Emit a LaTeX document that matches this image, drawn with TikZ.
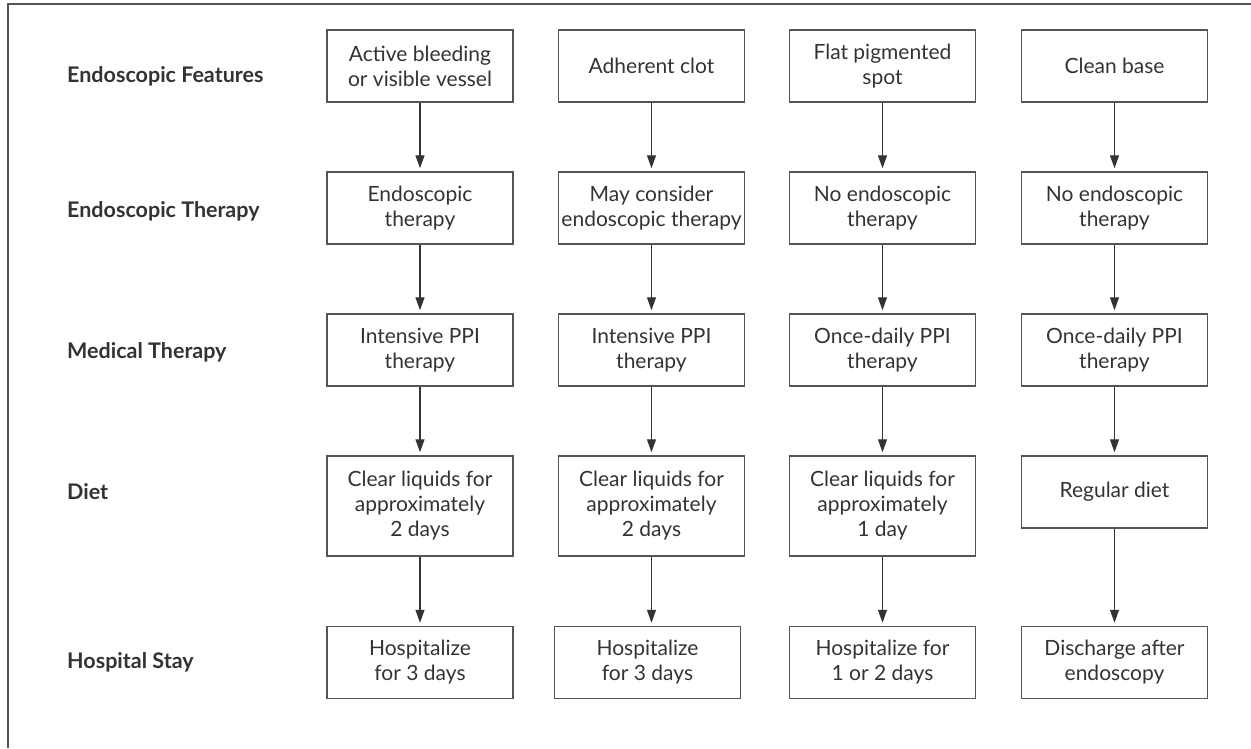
\documentclass[tikz,border=0pt]{standalone}
\usepackage{fontspec}
\setmainfont{Lato}
\usetikzlibrary{arrows.meta}
\definecolor{ink}{HTML}{333333}
\definecolor{edge}{HTML}{555555}
\begin{document}
\begin{tikzpicture}[x=1pt,y=-1pt,
  box/.style={draw=edge,line width=1.5pt,minimum width=186pt,minimum height=72pt,
    align=center,inner sep=2pt,text=ink,font=\fontsize{21}{25}\selectfont},
  tall/.style={box,minimum height=100pt},
  rowlabel/.style={anchor=base west,text=ink,font=\fontsize{21.5}{24}\selectfont\bfseries,inner sep=0pt},
  flow/.style={draw=ink,line width=1.3pt,-{Triangle[width=9pt,length=13pt]},shorten >=3pt}]
\useasboundingbox (0,0) rectangle (1251,748);
\draw[edge,line width=1.6pt] (8,748) -- (8,4) -- (1251,4);
% row labels
\node[rowlabel] (l1) at (67,82) {Endoscopic Features};
\node[rowlabel] (l2) at (67,217) {Endoscopic Therapy};
\node[rowlabel] (l3) at (67,358) {Medical Therapy};
\node[rowlabel] (l4) at (67,499) {Diet};
\node[rowlabel] (l5) at (67,668) {Hospital Stay};
% row 1
\node[box] (a1) at (420,66) {Active bleeding\\or visible vessel};
\node[box] (b1) at (651.5,66) {Adherent clot};
\node[box] (c1) at (882.5,66) {Flat pigmented\\spot};
\node[box] (d1) at (1114.5,66) {Clean base};
% row 2
\node[box] (a2) at (420,208) {Endoscopic\\therapy};
\node[box] (b2) at (651.5,208) {May consider\\endoscopic therapy};
\node[box] (c2) at (882.5,208) {No endoscopic\\therapy};
\node[box] (d2) at (1114.5,208) {No endoscopic\\therapy};
% row 3
\node[box] (a3) at (420,350) {Intensive PPI\\therapy};
\node[box] (b3) at (651.5,350) {Intensive PPI\\therapy};
\node[box] (c3) at (882.5,350) {Once-daily PPI\\therapy};
\node[box] (d3) at (1114.5,350) {Once-daily PPI\\therapy};
% row 4
\node[tall] (a4) at (420,506) {Clear liquids for\\approximately\\2 days};
\node[tall] (b4) at (651.5,506) {Clear liquids for\\approximately\\2 days};
\node[tall] (c4) at (882.5,506) {Clear liquids for\\approximately\\1 day};
\node[box] (d4) at (1114.5,492) {Regular diet};
% row 5
\node[box] (a5) at (420,662.5) {Hospitalize\\for 3 days};
\node[box] (b5) at (647.5,662.5) {Hospitalize\\for 3 days};
\node[box] (c5) at (882.5,662.5) {Hospitalize for\\1 or 2 days};
\node[box] (d5) at (1114.5,662.5) {Discharge after\\endoscopy};
% arrows
\foreach \c in {a,b,c,d}{
  \draw[flow] (\c1) -- (\c2);
  \draw[flow] (\c2) -- (\c3);
  \draw[flow] (\c3) -- (\c4);
}
\draw[flow] (a4) -- (a5);
\draw[flow] (b4.south) -- (b4.south |- b5.north);
\draw[flow] (c4) -- (c5);
\draw[flow] (d4) -- (d5);
\end{tikzpicture}
\end{document}
